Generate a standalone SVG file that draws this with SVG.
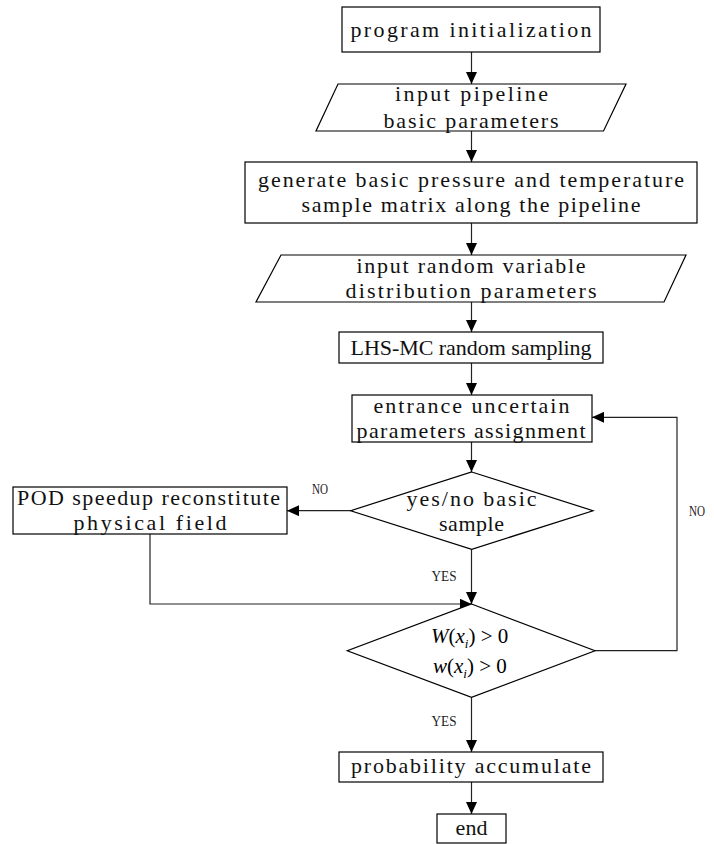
<svg xmlns="http://www.w3.org/2000/svg" width="714" height="844" viewBox="0 0 714 844">
<style>
.box{fill:#fff;stroke:#000;stroke-width:1.2}
.t{font-family:"Liberation Serif",serif;font-size:22px;fill:#111;text-anchor:middle}
.lbl{font-family:"Liberation Serif",serif;font-size:15px;fill:#222;text-anchor:middle}
.m{font-family:"Liberation Serif",serif;font-size:21px;fill:#000}
.c{fill:none;stroke:#222;stroke-width:1.2}
</style>
<defs>
<marker id="ah" markerUnits="userSpaceOnUse" markerWidth="12" markerHeight="11" refX="12" refY="5.5" orient="auto">
<path d="M0,0 L12,5.5 L0,11 z" fill="#000"/>
</marker>
</defs>
<rect width="714" height="844" fill="#fff"/>
<g id="connectors">
<line class="c" x1="471.5" y1="52" x2="471.5" y2="84" marker-end="url(#ah)"/>
<line class="c" x1="471.5" y1="131" x2="471.5" y2="162" marker-end="url(#ah)"/>
<line class="c" x1="471.5" y1="223" x2="471.5" y2="255" marker-end="url(#ah)"/>
<line class="c" x1="471.5" y1="302" x2="471.5" y2="332" marker-end="url(#ah)"/>
<line class="c" x1="471.5" y1="363" x2="471.5" y2="395" marker-end="url(#ah)"/>
<line class="c" x1="471.5" y1="442" x2="471.5" y2="472" marker-end="url(#ah)"/>
<line class="c" x1="350.7" y1="510.7" x2="287" y2="510.7" marker-end="url(#ah)"/>
<line class="c" x1="471.5" y1="549.3" x2="471.5" y2="604" marker-end="url(#ah)"/>
<polyline class="c" points="150,534 150,604 471.5,604" marker-end="url(#ah)"/>
<polyline class="c" points="595,650.7 677,650.7 677,417.3 592,417.3" marker-end="url(#ah)"/>
<line class="c" x1="471.5" y1="697.3" x2="471.5" y2="752" marker-end="url(#ah)"/>
<line class="c" x1="471.5" y1="782" x2="471.5" y2="814" marker-end="url(#ah)"/>
<text class="lbl" x="320" y="494" textLength="16" lengthAdjust="spacingAndGlyphs">NO</text>
<text class="lbl" x="697" y="516" textLength="16" lengthAdjust="spacingAndGlyphs">NO</text>
<text class="lbl" x="444" y="581" textLength="25" lengthAdjust="spacingAndGlyphs">YES</text>
<text class="lbl" x="444" y="726" textLength="25" lengthAdjust="spacingAndGlyphs">YES</text>
</g>
<g id="n1">
<rect class="box" x="342" y="7" width="258" height="45"/>
<text class="t" x="471" y="37" textLength="241" lengthAdjust="spacing">program initialization</text>
</g>
<g id="n2">
<polygon class="box" points="338,84 626,84 603.5,131 316,131"/>
<text class="t" x="471.5" y="101" textLength="153" lengthAdjust="spacing">input pipeline</text>
<text class="t" x="471" y="128" textLength="175" lengthAdjust="spacing">basic parameters</text>
</g>
<g id="n3">
<rect class="box" x="245" y="162" width="452" height="61"/>
<text class="t" x="471" y="187" textLength="426" lengthAdjust="spacing">generate basic pressure and temperature</text>
<text class="t" x="471" y="212" textLength="339" lengthAdjust="spacing">sample matrix along the pipeline</text>
</g>
<g id="n4">
<polygon class="box" points="281,255 686,255 664,302 256,302"/>
<text class="t" x="471" y="273" textLength="229" lengthAdjust="spacing">input random variable</text>
<text class="t" x="471" y="298" textLength="251" lengthAdjust="spacing">distribution parameters</text>
</g>
<g id="n5">
<rect class="box" x="339" y="332" width="264" height="31"/>
<text class="t" x="471" y="355" textLength="241" lengthAdjust="spacing">LHS-MC random sampling</text>
</g>
<g id="n6">
<rect class="box" x="352" y="395" width="240" height="47"/>
<text class="t" x="471.5" y="413" textLength="196" lengthAdjust="spacing">entrance uncertain</text>
<text class="t" x="471" y="438" textLength="229" lengthAdjust="spacing">parameters assignment</text>
</g>
<g id="n7">
<polygon class="box" points="471.7,472 593,510.7 471.7,549.3 350.7,510.7"/>
<text class="t" x="471.5" y="506" textLength="130" lengthAdjust="spacing">yes/no basic</text>
<text class="t" x="471.5" y="531" textLength="65" lengthAdjust="spacing">sample</text>
</g>
<g id="n8">
<rect class="box" x="13" y="487" width="274" height="47"/>
<text class="t" x="148.5" y="505" textLength="263" lengthAdjust="spacing">POD speedup reconstitute</text>
<text class="t" x="150" y="530" textLength="153" lengthAdjust="spacing">physical field</text>
</g>
<g id="n9">
<polygon class="box" points="471.5,604 595,650.7 471.5,697.3 347.3,650.7"/>
<text class="m" x="431" y="643"><tspan font-style="italic">W</tspan>(<tspan font-style="italic">x</tspan><tspan font-style="italic" font-size="13" dy="5">i</tspan><tspan dy="-5">) &gt; 0</tspan></text>
<text class="m" x="433" y="673"><tspan font-style="italic">w</tspan>(<tspan font-style="italic">x</tspan><tspan font-style="italic" font-size="13" dy="5">i</tspan><tspan dy="-5">) &gt; 0</tspan></text>
</g>
<g id="n10">
<rect class="box" x="339" y="752" width="264" height="30"/>
<text class="t" x="471" y="773" textLength="240" lengthAdjust="spacing">probability accumulate</text>
</g>
<g id="n11">
<rect class="box" x="437" y="814" width="69" height="29"/>
<text class="t" x="471.5" y="835" textLength="32" lengthAdjust="spacing">end</text>
</g>
</svg>
